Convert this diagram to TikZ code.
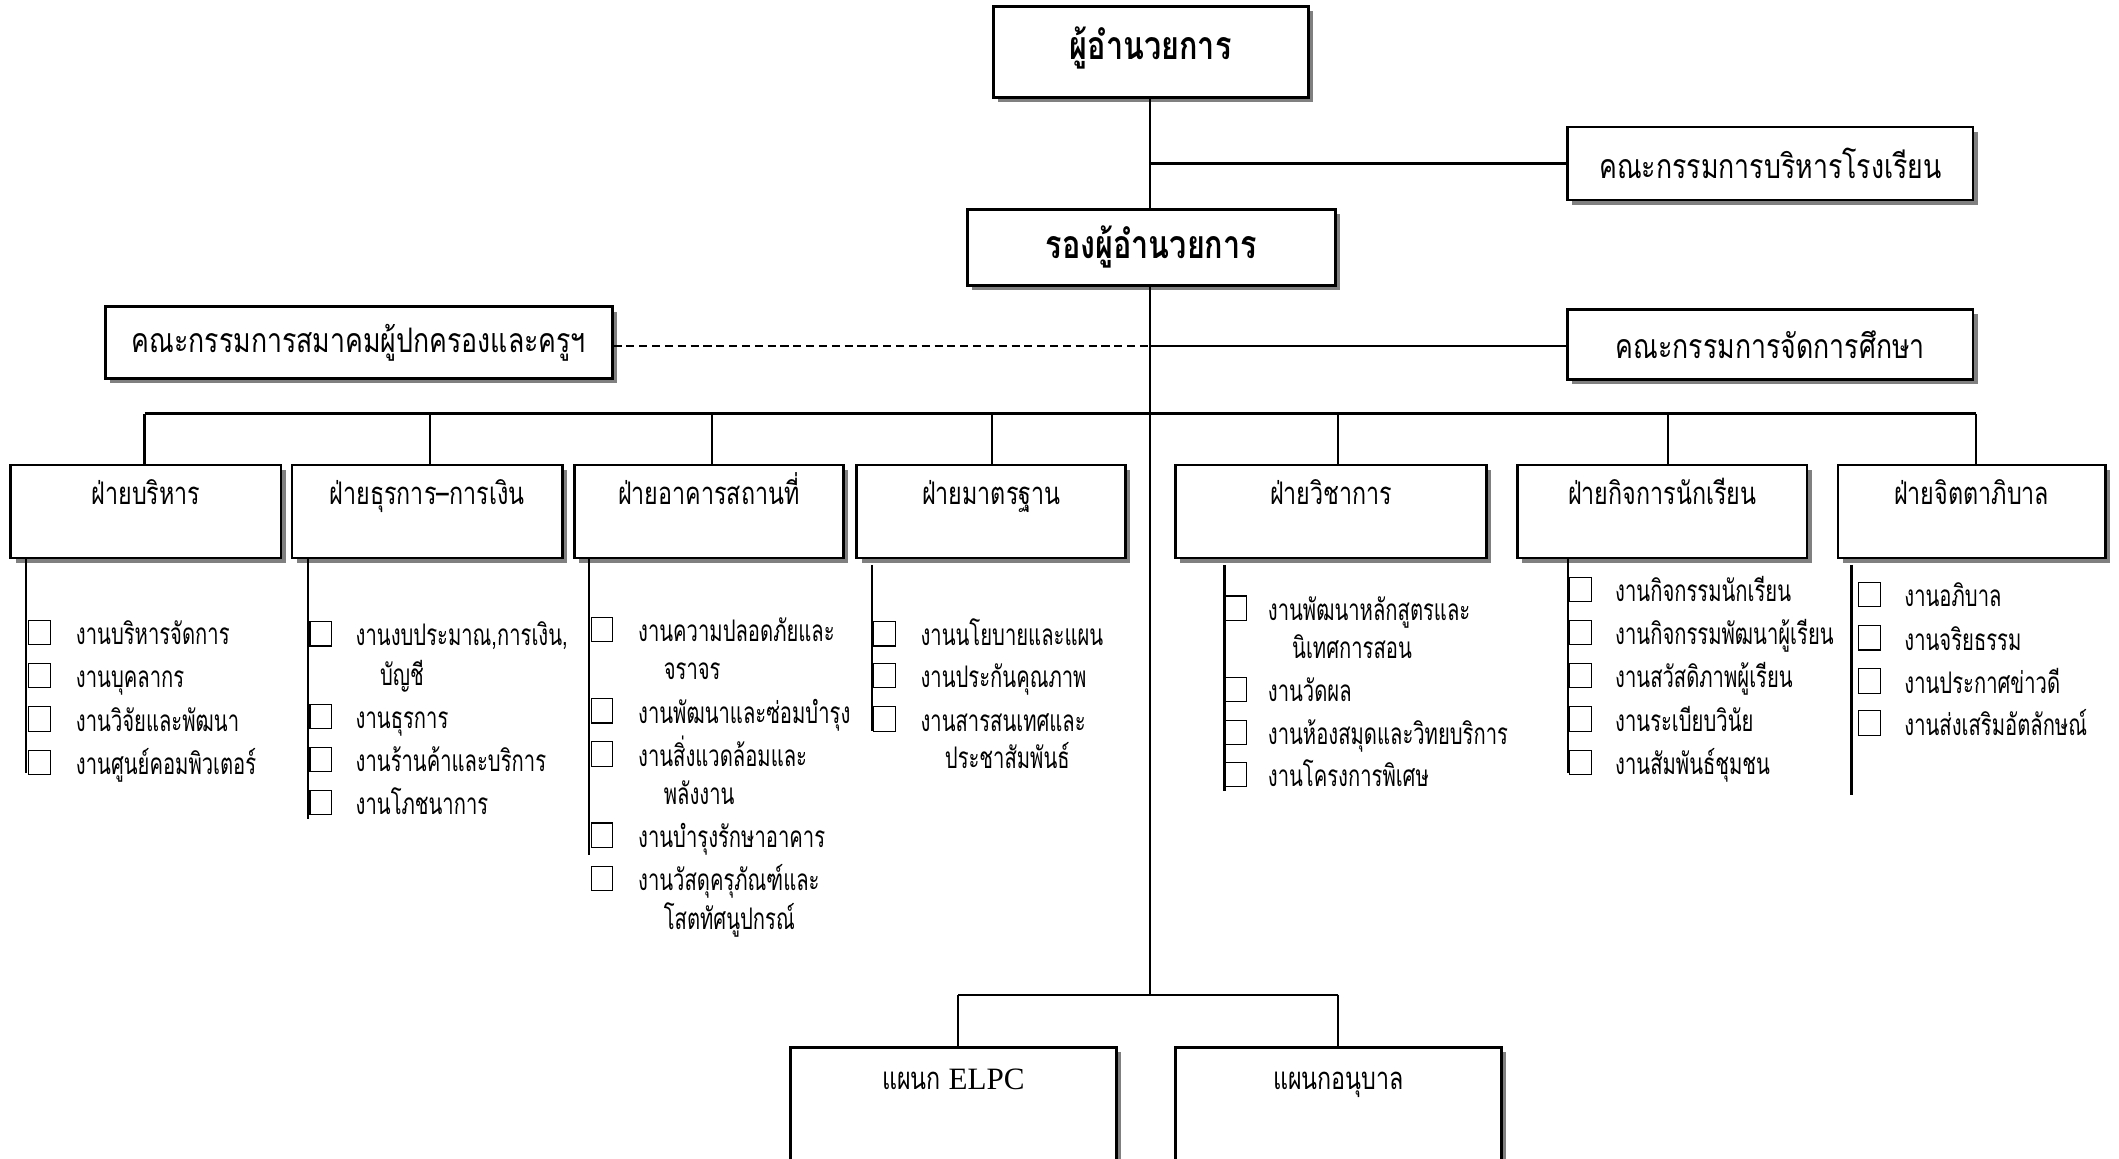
\documentclass[tikz,border=0pt]{standalone}
\usepackage{fontspec}
\newfontfamily\thaiitem[Script=Thai,FakeStretch=0.68]{Loma}
\newfontfamily\thaidept[Script=Thai,FakeStretch=0.75]{Loma}
\newfontfamily\thaicom[Script=Thai,FakeStretch=0.79]{Loma}
\newfontfamily\thaitop[Script=Thai,FakeStretch=0.78]{Loma}
\newfontfamily\serifel{Liberation Serif}
\usetikzlibrary{shadows}
\begin{document}
\begin{tikzpicture}[x=1pt,y=-1pt,
  box/.style={draw, line width=2pt, fill=white, inner sep=0pt,
    general shadow={fill=black!50, shadow xshift=3.5pt, shadow yshift=-3.5pt}},
  conn/.style={line width=1.7pt},
  dashconn/.style={line width=1.5pt, dash pattern=on 6pt off 3.5pt},
  topbox/.style={box, minimum height=0pt, font=\thaitop\bfseries\fontsize{29}{32}\selectfont},
  cbox/.style={box, minimum width=300pt, font=\thaicom\fontsize{25}{28}\selectfont},
  dept/.style={box, text height=29pt, text depth=40pt, font=\thaidept\fontsize{23}{26}\selectfont},
  unit/.style={box, text height=31pt, text depth=79pt, font=\thaidept\fontsize{23}{26}\selectfont},
  chk/.style={draw, line width=0.8pt, minimum width=16pt, minimum height=18pt, inner sep=0pt, anchor=west},
  itm/.style={anchor=base west, inner sep=0pt, font=\thaiitem\fontsize{22}{25}\selectfont},
]
\useasboundingbox (0,0) rectangle (1568,857);
\clip (0,0) rectangle (1568,857);
\fill[white] (0,0) rectangle (1568,857);

% ---------- top part ----------
\node[topbox, minimum width=233pt, text height=39pt, text depth=28pt] (dir) at (851.5,38.5) {ผู้อำนวยการ};
\node[cbox, minimum height=54pt] (board) at (1310,121) {คณะกรรมการบริหารโรงเรียน};
\node[topbox, minimum width=272pt, text height=36pt, text depth=20pt] (dep) at (852,183) {รองผู้อำนวยการ};
\node[cbox, minimum width=375pt, minimum height=53pt] (pta) at (265.5,253.5) {คณะกรรมการสมาคมผู้ปกครองและครูฯ};
\node[cbox, minimum height=52pt] (edu) at (1310,255) {คณะกรรมการจัดการศึกษา};

\coordinate (tA) at (851,121);
\coordinate (tB) at (851,256);
\coordinate (busL) at (107,306);
\coordinate (busR) at (1462,306);
\coordinate (lbus) at (851,736);

\draw[conn] (dir.south -| tA) -- (dep.north -| tA);
\draw[conn] (tA) -- (board.west);
\draw[conn] (dep.south -| tA) -- (lbus);
\draw[conn] (tB) -- (edu.west |- tB);
\draw[dashconn] (pta.east |- tB) -- (tB);
\draw[conn] (busL) -- (busR);

% ---------- departments ----------
\node[dept, minimum width=200pt] (d1) at (108,378.5) {ฝ่ายบริหาร};
\node[dept, minimum width=200pt] (d2) at (316,378.5) {ฝ่ายธุรการ–การเงิน};
\node[dept, minimum width=199pt] (d3) at (524.5,378.5) {ฝ่ายอาคารสถานที่};
\node[dept, minimum width=199pt] (d4) at (733.5,378.5) {ฝ่ายมาตรฐาน};
\node[dept, minimum width=230pt] (d5) at (985,378.5) {ฝ่ายวิชาการ};
\node[dept, minimum width=214pt] (d6) at (1230,378.5) {ฝ่ายกิจการนักเรียน};
\node[dept, minimum width=198pt] (d7) at (1459,378.5) {ฝ่ายจิตตาภิบาล};

\coordinate (k1) at (107,306);
\coordinate (k2) at (318,306);
\coordinate (k3) at (527,306);
\coordinate (k4) at (734,306);
\coordinate (k5) at (990,306);
\coordinate (k6) at (1234,306);
\coordinate (k7) at (1462,306);
\foreach \i in {1,...,7} {\draw[conn] (k\i) -- (k\i |- d\i.north);}

% lines under the departments
\draw[conn] (d1.south -| 19,0) -- (19,572);
\draw[conn] (d2.south -| 228,0) -- (228,606);
\draw[conn] (d3.south -| 436,0) -- (436,633);
\draw[conn] ([yshift=-4pt]d4.south -| 645,0) -- (645,541);
\draw[conn] ([yshift=-4pt]d5.south -| 906,0) -- (906,585);
\draw[conn] (d6.south -| 1160,0) -- (1160,572);
\draw[conn] ([yshift=-4pt]d7.south -| 1370,0) -- (1370,588);

% ---------- items ----------
% admin
\foreach \r/\t [count=\n] in {470/งานบริหารจัดการ, 502/งานบุคลากร, 534/งานวิจัยและพัฒนา, 566/งานศูนย์คอมพิวเตอร์}{
  \node[chk] (a\n) at (21,\r-2) {};
  \node[itm] (at\n) at (56,\r+7) {\t};
}
% finance
\foreach \r/\t [count=\n] in {471/{งานงบประมาณ,การเงิน,}, 532/งานธุรการ, 564/งานร้านค้าและบริการ, 596/งานโภชนาการ}{
  \node[chk] (b\n) at (229,\r-2) {};
  \node[itm] (bt\n) at (263,\r+7) {\t};
}
\node[itm] (bc1) at (281,507) {บัญชี};
% buildings
\foreach \r/\t [count=\n] in {468/งานความปลอดภัยและ, 528/งานพัฒนาและซ่อมบำรุง, 560/งานสิ่งแวดล้อมและ, 620/งานบำรุงรักษาอาคาร, 652/งานวัสดุครุภัณฑ์และ}{
  \node[chk] (c\n) at (437,\r-2) {};
  \node[itm] (ct\n) at (472,\r+7) {\t};
}
\node[itm] (cc1) at (491,503) {จราจร};
\node[itm] (cc2) at (491,595) {พลังงาน};
\node[itm] (cc3) at (491,688) {โสตทัศนูปกรณ์};
% standards
\foreach \r/\t [count=\n] in {471/งานนโยบายและแผน, 502/งานประกันคุณภาพ, 534/งานสารสนเทศและ}{
  \node[chk] (e\n) at (646,\r-2) {};
  \node[itm] (et\n) at (681,\r+7) {\t};
}
\node[itm] (ec1) at (699,569) {ประชาสัมพันธ์};
% academic
\foreach \r/\t [count=\n] in {452/งานพัฒนาหลักสูตรและ, 512/งานวัดผล, 544/งานห้องสมุดและวิทยบริการ, 575/งานโครงการพิเศษ}{
  \node[chk] (f\n) at (906,\r-2) {};
  \node[itm] (ft\n) at (938,\r+7) {\t};
}
\node[itm] (fc1) at (956,487) {นิเทศการสอน};
% students
\foreach \r/\t [count=\n] in {438/งานกิจกรรมนักเรียน, 470/งานกิจกรรมพัฒนาผู้เรียน, 502/งานสวัสดิภาพผู้เรียน, 534/งานระเบียบวินัย, 566/งานสัมพันธ์ชุมชน}{
  \node[chk] (g\n) at (1161,\r-2) {};
  \node[itm] (gt\n) at (1195,\r+7) {\t};
}
% pastoral
\foreach \r/\t [count=\n] in {442/งานอภิบาล, 474/งานจริยธรรม, 506/งานประกาศข่าวดี, 537/งานส่งเสริมอัตลักษณ์}{
  \node[chk] (h\n) at (1375,\r-2) {};
  \node[itm] (ht\n) at (1409,\r+7) {\t};
}

% ---------- lower units ----------
\node[unit, minimum width=241pt] (elpc) at (705.5,830) {แผนก {\serifel ELPC}};
\node[unit, minimum width=241pt] (kg) at (990.5,830) {แผนกอนุบาล};
\coordinate (lbL) at (709,736);
\coordinate (lbR) at (990,736);
\draw[conn] (lbL) -- (lbR);
\draw[conn] (lbL) -- (lbL |- elpc.north);
\draw[conn] (lbR) -- (lbR |- kg.north);
\end{tikzpicture}
\end{document}
